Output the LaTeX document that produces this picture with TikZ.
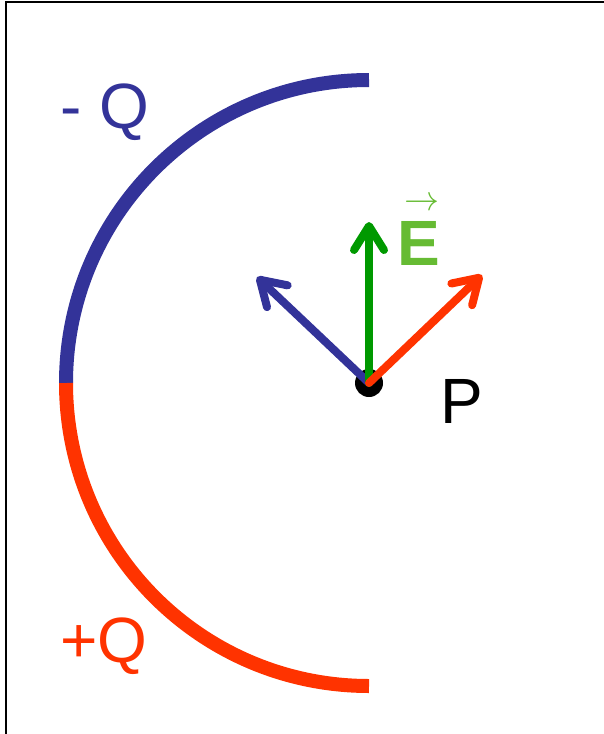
\documentclass[tikz,border=0pt]{standalone}
\usepackage{fontspec}
\setmainfont{Liberation Sans}
\usepackage{graphicx}
\usetikzlibrary{arrows.meta}
\definecolor{negq}{RGB}{51,51,153}
\definecolor{posq}{RGB}{255,51,0}
\definecolor{field}{RGB}{0,153,0}
\definecolor{flabel}{RGB}{102,187,51}

\begin{document}
\begin{tikzpicture}[
  x=1pt, y=-1pt,
  every node/.style={font=\fontsize{64}{70}\selectfont, inner sep=0pt},
  charge/.style={line width=14pt},
  vecarrow/.style={line width=8pt, line cap=round,
               -{Straight Barb[length=24pt,width=30pt,round]}},
  >=Stealth
]

\useasboundingbox (0,0) rectangle (604,734);
\draw[line width=2pt] (6,740) -- (6,2) -- (610,2);

% the two charged half rings
\coordinate (P) at (369,383);
\draw[charge, negq] (P) ++(0,-303) arc[start angle=90, end angle=180, radius=303pt];
\draw[charge, posq] (P) ++(-303,0) arc[start angle=180, end angle=270, radius=303pt];

\fill (P) circle[radius=14pt];

\coordinate (Eneg) at (257,277);
\coordinate (Etot) at (369,222);
\coordinate (Epos) at (482,275);

\draw[vecarrow, negq] (P) -- (Eneg);
\draw[vecarrow, field] (P) -- (Etot);
\draw[vecarrow, posq] (P) -- (Epos);

\node[negq, anchor=base west] (negQ) at (60,128) {- Q};
\node[posq, anchor=base west] (posQ) at (60,662) {+Q};
\node[anchor=base west] (Plabel) at (440,423) {P};
\node[flabel, anchor=base west, font=\fontsize{64}{70}\selectfont\bfseries]
  (Elabel) at (397,265)
  {E\llap{\raisebox{55pt}{\scalebox{3.5}{\fontsize{10}{12}\selectfont$\rightarrow$}}}};

\end{tikzpicture}
\end{document}
